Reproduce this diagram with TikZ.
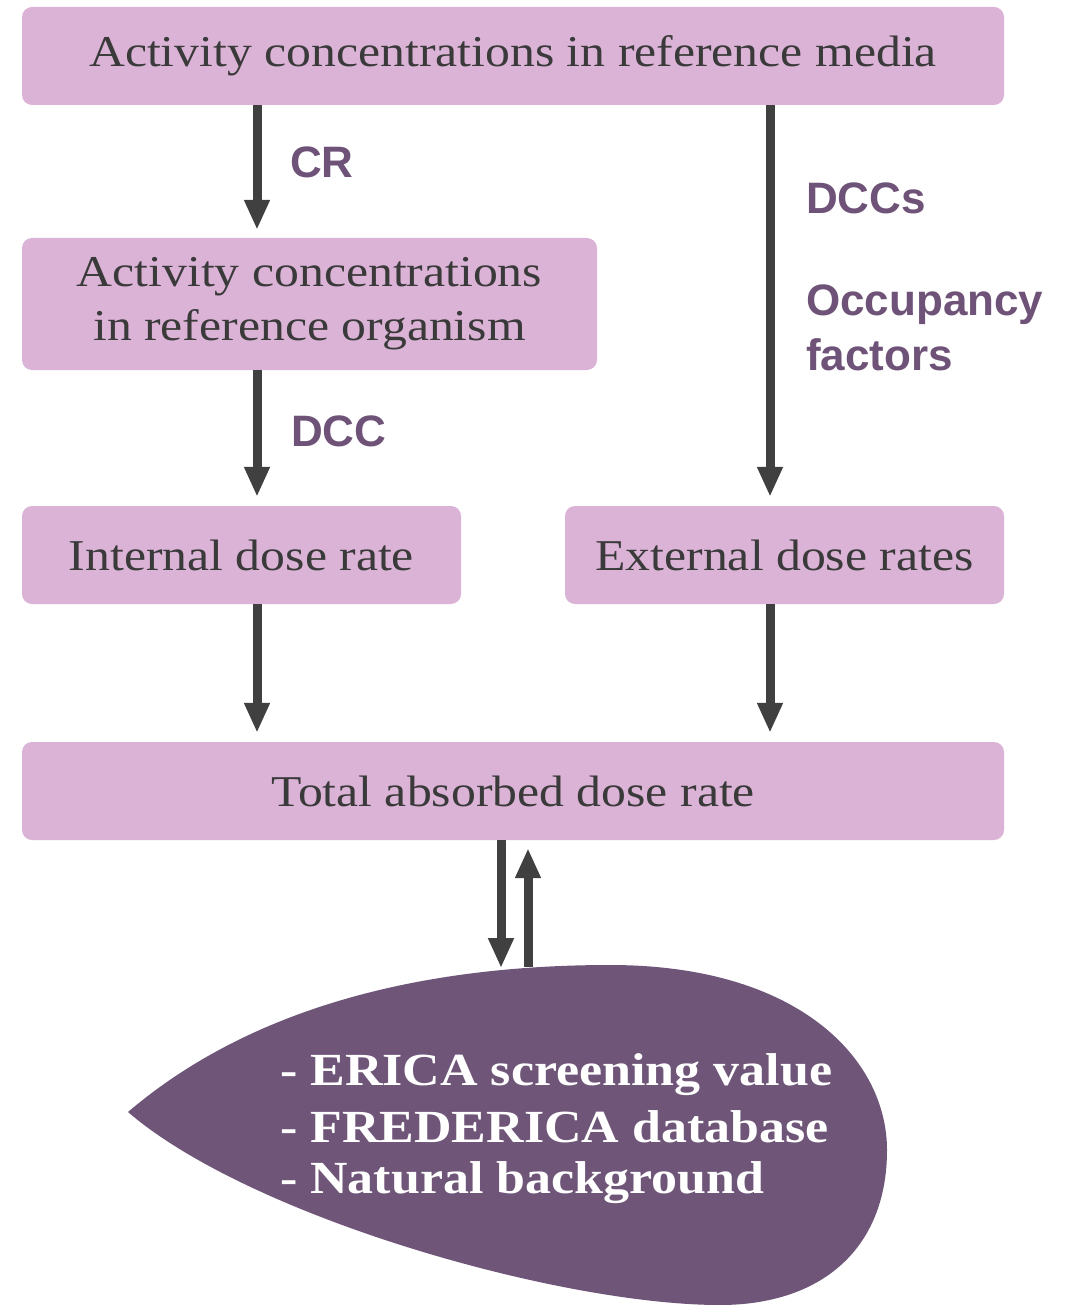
\documentclass[tikz,border=0pt]{standalone}
\usepackage{fontspec}
\setmainfont{Liberation Serif}
\newfontfamily\boxfont[FakeStretch=1.13]{Liberation Serif}
\newfontfamily\labelfont{Liberation Sans}
\usetikzlibrary{arrows.meta}
\definecolor{boxfill}{HTML}{DBB3D6}
\definecolor{boxtext}{HTML}{3A3A3A}
\definecolor{dropfill}{HTML}{6F5679}
\definecolor{labelcol}{HTML}{6E5278}
\definecolor{arrowcol}{HTML}{404040}
\begin{document}
\begin{tikzpicture}[x=1pt,y=-1pt,
  box/.style={fill=boxfill, rounded corners=10pt, inner sep=0pt, align=center,
    text=boxtext, font=\boxfont\fontsize{44}{54}\selectfont},
  flow/.style={draw=arrowcol, line width=9pt,
    -{Triangle[length=30pt,width=24pt]}},
  steplabel/.style={anchor=base west, inner sep=0pt, text=labelcol,
    font=\labelfont\bfseries\fontsize{44}{52}\selectfont},
  droptext/.style={anchor=base west, inner sep=0pt, text=white,
    font=\boxfont\bfseries\fontsize{46}{54}\selectfont}]
\useasboundingbox (0,0) rectangle (1076,1305);

% process boxes
\node[box, minimum width=982pt, minimum height=98pt] (media) at (513,56)
  {Activity concentrations in reference media};
\node[box, minimum width=575pt, minimum height=132pt] (organism) at (309.5,304)
  {Activity concentrations\\in reference organism};
\node[box, minimum width=439pt, minimum height=98pt] (internal) at (241.5,555)
  {Internal dose rate};
\node[box, minimum width=439pt, minimum height=98pt] (external) at (784.5,555)
  {External dose rates};
\node[box, minimum width=982pt, minimum height=98pt] (total) at (513,791)
  {Total absorbed dose rate};

% arrow columns
\coordinate (colL) at (257,0);
\coordinate (colR) at (770,0);
\coordinate (dropDown) at (501,968);
\coordinate (dropUp) at (528,967);

% connectors
\draw[flow, shorten >=8pt] (media.south -| colL) -- (organism.north -| colL);
\draw[flow, shorten >=9pt] (organism.south -| colL) -- (internal.north -| colL);
\draw[flow, shorten >=9pt] (media.south -| colR) -- (external.north -| colR);
\draw[flow, shorten >=9pt] (internal.south -| colL) -- (total.north -| colL);
\draw[flow, shorten >=9pt] (external.south -| colR) -- (total.north -| colR);
\draw[flow] (total.south -| dropDown) -- (dropDown);
\draw[flow, shorten >=8pt] (dropUp) -- (total.south -| dropUp);

% arrow labels
\node[steplabel] (lblCR) at (290,178) {CR};
\node[steplabel] (lblDCC) at (291,446) {DCC};
\node[steplabel] (lblDCCs) at (806,214) {DCCs};
\node[steplabel] (lblOcc) at (806,316) {Occupancy};
\node[steplabel] (lblFac) at (806,370) {factors};

% teardrop with benchmark sources
\fill[dropfill] (128,1112)
  .. controls (250,1008) and (420,965) .. (610,965)
  .. controls (800,965) and (887,1060) .. (887,1150)
  .. controls (887,1250) and (820,1305) .. (720,1305)
  .. controls (560,1305) and (250,1217) .. (128,1112) -- cycle;
\node[droptext] (drop1) at (280,1085) {- ERICA screening value};
\node[droptext] (drop2) at (280,1142) {- FREDERICA database};
\node[droptext] (drop3) at (280,1193) {- Natural background};
\end{tikzpicture}
\end{document}
